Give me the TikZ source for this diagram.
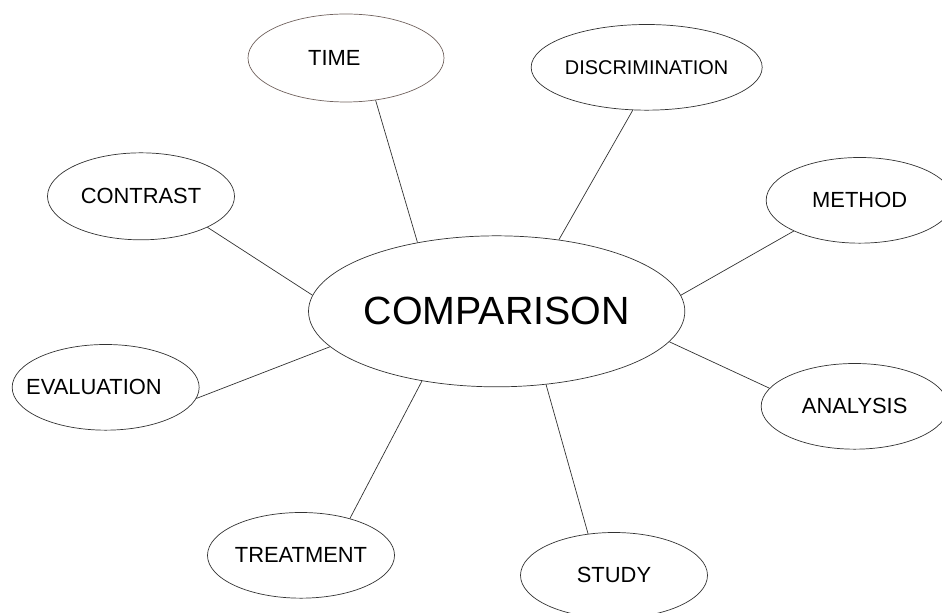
\documentclass[tikz,border=0pt]{standalone}
\usepackage{fontspec}
\setmainfont{Liberation Sans}
\usetikzlibrary{shapes.geometric}
\definecolor{rimgray}{RGB}{50, 50, 50}
\definecolor{rimbrown}{RGB}{112, 98, 94}

\begin{document}
\begin{tikzpicture}[
  bubble/.style={draw=rimgray, line width=0.6pt, ellipse, inner sep=0pt,
    minimum width=5.61cm, minimum height=2.57cm, font=\fontsize{18.7}{22}\selectfont},
  spoke/.style={draw=rimgray, line width=0.6pt}]
  \useasboundingbox (0, 0) rectangle (28.26, 18.39);

  % the hub
  \node[bubble, minimum width=10.29cm, minimum height=4.53cm, font=\fontsize{33.6}{40}\selectfont] (comparison) at (14.9, 9.05) {COMPARISON};

  % the words round it
  \node[bubble, draw=rimbrown, minimum width=5.88cm, minimum height=2.64cm] (time) at (10.38, 16.65) {\makebox[0pt]{TIME\rule{0.7cm}{0pt}}};
  \node[bubble, font=\fontsize{17}{20}\selectfont] (discrimination) at (19.4, 16.37) {DISCRIMINATION};
  \node[bubble, minimum height=2.61cm] (contrast) at (4.23, 12.5) {CONTRAST};
  \node[bubble] (method) at (25.79, 12.38) {METHOD};
  \node[bubble] (evaluation) at (3.17, 6.77) {\makebox[0pt]{EVALUATION\rule{0.7cm}{0pt}}};
  \node[bubble] (analysis) at (25.64, 6.2) {ANALYSIS};
  \node[bubble] (treatment) at (9.03, 1.73) {TREATMENT};
  \node[bubble] (study) at (18.42, 1.13) {STUDY};

  % spokes
  \draw[spoke] (time.305) -- (comparison.139);
  \draw[spoke] (discrimination.252) -- (comparison.49);
  \draw[spoke] (contrast.335) -- (comparison.175);
  \draw[spoke] (method.205) -- (comparison.5);
  \draw[spoke] (evaluation.353) -- (comparison.192);
  \draw[spoke] (analysis.168) -- (comparison.350);
  \draw[spoke] (treatment.37) -- (comparison.223);
  \draw[spoke] (study.122) -- (comparison.304);
\end{tikzpicture}
\end{document}
